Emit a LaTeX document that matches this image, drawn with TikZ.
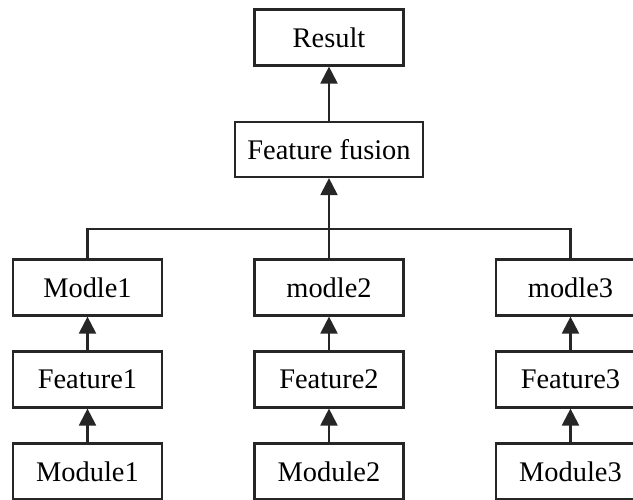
\documentclass[tikz,border=0pt]{standalone}
\usepackage{fontspec}
\setmainfont{Liberation Serif}
\usetikzlibrary{arrows.meta}
\begin{document}
\begin{tikzpicture}[x=0.5pt,y=-0.5pt,
  box/.style={draw=black!85,line width=1.1pt,rectangle,inner sep=0pt,
    minimum width=74.5pt,minimum height=28pt,
    font=\fontsize{14.2}{16}\selectfont},
  arr/.style={draw=black!85,line width=1.1pt,-{Triangle[length=8.5pt,width=8.5pt]}},
  ln/.style={draw=black!85,line width=1.1pt}]
\useasboundingbox (0,0) rectangle (633,499);
\clip (0,0) rectangle (633,499);
\node[box] (res) at (329,37.5) {Result};
\node[box,minimum width=94pt,minimum height=27.5pt] (fus) at (329,149.5) {Feature fusion};
\node[box] (m1) at (87.5,287.5) {Modle1};
\node[box] (m2) at (329,287.5) {modle2};
\node[box] (m3) at (570.5,287.5) {modle3};
\node[box] (f1) at (87.5,379.5) {Feature1};
\node[box] (f2) at (329,379.5) {Feature2};
\node[box] (f3) at (570.5,379.5) {Feature3};
\node[box] (u1) at (87.5,471.5) {Module1};
\node[box] (u2) at (329,471.5) {Module2};
\node[box] (u3) at (570.5,471.5) {Module3};
\coordinate (j) at (329,229);
\draw[arr] (fus) -- (res);
\draw[ln] (m1.north) |- (j);
\draw[ln] (m3.north) |- (j);
\draw[ln] (m2.north) -- (j);
\draw[arr] (j) -- (fus.south);
\draw[arr] (f1) -- (m1);
\draw[arr] (f2) -- (m2);
\draw[arr] (f3) -- (m3);
\draw[arr] (u1) -- (f1);
\draw[arr] (u2) -- (f2);
\draw[arr] (u3) -- (f3);
\end{tikzpicture}
\end{document}
